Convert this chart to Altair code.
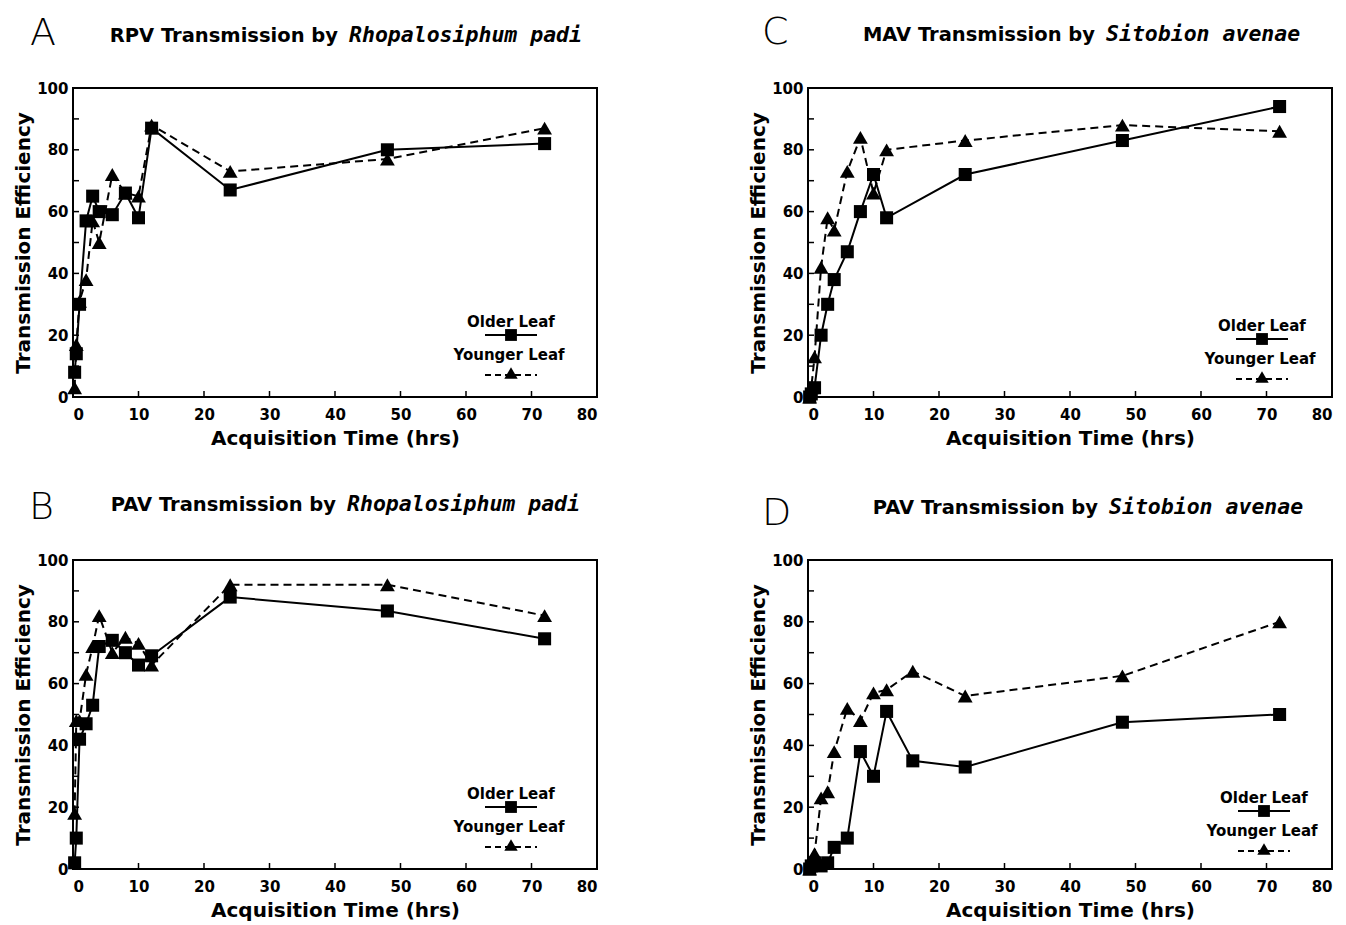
import altair as alt
import pandas as pd

# ---------------- data ----------------
TIMES = [0.25, 0.5, 1, 2, 3, 4, 6, 8, 10, 12, 24, 48, 72]
TIMES_D = [0.25, 0.5, 1, 2, 3, 4, 6, 8, 10, 12, 16, 24, 48, 72]

A_older = [8, 14, 30, 57, 65, 60, 59, 66, 58, 87, 67, 80, 82]
A_younger = [3, 17, 31, 38, 57, 50, 72, 66, 65, 88, 73, 77, 87]

C_older = [0, 1, 3, 20, 30, 38, 47, 60, 72, 58, 72, 83, 94]
C_younger = [0, 3, 13, 42, 58, 54, 73, 84, 66, 80, 83, 88, 86]

B_older = [2, 10, 42, 47, 53, 72, 74, 70, 66, 69, 88, 83.5, 74.5]
B_younger = [18, 48, 48, 63, 72, 82, 70, 75, 73, 66, 92, 92, 82]

D_older = [0, 1, 2, 1, 2, 7, 10, 38, 30, 51, 35, 33, 47.5, 50]
D_younger = [0, 2, 5, 23, 25, 38, 52, 48, 57, 58, 64, 56, 62.5, 80]

X_TICKS = list(range(0, 81, 10))
Y_TICKS = list(range(0, 101, 10))
Y_LABELS = list(range(0, 101, 20))

W, H = 524, 309
FONT = "DejaVu Sans"


def panel(letter, virus, aphid, t, older, younger, split, title_dy, letter_dx, letter_dy, leg_dx, leg_dy):
    df_o = pd.DataFrame({"t": t, "v": older})
    df_y = pd.DataFrame({"t": t, "v": younger})
    xs = alt.Scale(domain=[0, 80], nice=False, zero=False)
    ys = alt.Scale(domain=[0, 100], nice=False)
    xax = alt.Axis(values=X_TICKS, ticks=False, domain=False, grid=False,
                   labelFont=FONT, labelFontSize=15, labelFontWeight="bold",
                   labelColor="black", labelPadding=10,
                   title="Acquisition Time (hrs)", titleFont=FONT, titleFontSize=20,
                   titleFontWeight="bold", titleColor="black", titlePadding=6)
    yax = alt.Axis(values=Y_LABELS, ticks=False, domain=False, grid=False,
                   labelFont=FONT, labelFontSize=15, labelFontWeight="bold",
                   labelColor="black", labelPadding=5,
                   title="Transmission Efficiency", titleFont=FONT, titleFontSize=20,
                   titleFontWeight="bold", titleColor="black", titlePadding=3)
    X = alt.X("t:Q", scale=xs, axis=xax)
    Y = alt.Y("v:Q", scale=ys, axis=yax)

    line_o = alt.Chart(df_o).mark_line(color="black", strokeWidth=2).encode(x=X, y=Y)
    pts_o = alt.Chart(df_o).mark_point(shape="square", filled=True, size=170,
                                       color="black", opacity=1).encode(x=X, y=Y)
    line_y = alt.Chart(df_y).mark_line(color="black", strokeWidth=2,
                                       strokeDash=[8, 5]).encode(x=X, y=Y)
    pts_y = alt.Chart(df_y).mark_point(shape="triangle-up", filled=True, size=220,
                                       color="black", opacity=1).encode(x=X, y=Y)

    tick_y = alt.Chart(pd.DataFrame({"v": Y_TICKS})).mark_rule(
        color="black", strokeWidth=1.5).encode(
        y=alt.Y("v:Q", scale=ys, axis=yax), x=alt.value(0), x2=alt.value(6))
    tick_x = alt.Chart(pd.DataFrame({"t": X_TICKS})).mark_rule(
        color="black", strokeWidth=1.5).encode(
        x=alt.X("t:Q", scale=xs, axis=xax), y=alt.value(H), y2=alt.value(H - 6))

    one = pd.DataFrame({"a": [0]})
    lx = 438 + leg_dx
    ly = leg_dy
    leg_txt_o = alt.Chart(one).mark_text(text="Older Leaf", font=FONT, fontSize=15,
                                         fontWeight="bold", color="black",
                                         align="center", baseline="middle").encode(
        x=alt.value(lx), y=alt.value(234 + ly))
    leg_line_o = alt.Chart(one).mark_rule(color="black", strokeWidth=2).encode(
        x=alt.value(lx - 26), x2=alt.value(lx + 26), y=alt.value(247 + ly))
    leg_pt_o = alt.Chart(one).mark_point(shape="square", filled=True, size=140,
                                         color="black", opacity=1).encode(
        x=alt.value(lx), y=alt.value(247 + ly))
    leg_txt_y = alt.Chart(one).mark_text(text="Younger Leaf", font=FONT, fontSize=15,
                                         fontWeight="bold", color="black",
                                         align="center", baseline="middle").encode(
        x=alt.value(lx - 2), y=alt.value(267 + ly))
    leg_line_y = alt.Chart(one).mark_rule(color="black", strokeWidth=2,
                                          strokeDash=[6, 4]).encode(
        x=alt.value(lx - 26), x2=alt.value(lx + 26), y=alt.value(287 + ly))
    leg_pt_y = alt.Chart(one).mark_point(shape="triangle-up", filled=True, size=180,
                                         color="black", opacity=1).encode(
        x=alt.value(lx), y=alt.value(285 + ly))

    t_reg = alt.Chart(one).mark_text(text=f"{virus} Transmission by", font=FONT,
                                     fontSize=19.5, fontWeight="bold", color="black",
                                     align="right", baseline="alphabetic").encode(
        x=alt.value(split), y=alt.value(title_dy))
    t_ital = alt.Chart(one).mark_text(text=aphid, font="DejaVu Sans Mono", fontSize=21.5,
                                      fontWeight="bold", fontStyle="italic",
                                      color="black", align="left",
                                      baseline="alphabetic").encode(
        x=alt.value(split + 11), y=alt.value(title_dy))
    t_letter = alt.Chart(one).mark_text(text=letter, font=FONT, fontSize=38,
                                        fontWeight=200, color="black", align="left",
                                        baseline="alphabetic").encode(
        x=alt.value(letter_dx), y=alt.value(letter_dy))

    return alt.layer(tick_y, tick_x, line_o, line_y, pts_o, pts_y,
                     leg_txt_o, leg_line_o, leg_pt_o, leg_txt_y, leg_line_y, leg_pt_y,
                     t_reg, t_ital, t_letter).properties(width=W, height=H)


pA = panel("A", "RPV", "Rhopalosiphum padi", TIMES, A_older, A_younger,
           265, -46, -43, -43, 0, 0)
pC = panel("C", "MAV", "Sitobion avenae", TIMES, C_older, C_younger,
           287, -47, -46, -44, 16, 4)
pB = panel("B", "PAV", "Rhopalosiphum padi", TIMES, B_older, B_younger,
           263, -49, -44, -41, 0, 0)
pD = panel("D", "PAV", "Sitobion avenae", TIMES_D, D_older, D_younger,
           290, -46, -46, -35, 18, 4)

chart = alt.vconcat(
    alt.hconcat(pA, pC, spacing=148),
    alt.hconcat(pB, pD, spacing=148),
    spacing=39,
).properties(
    padding={"left": 4, "top": 5, "right": 0, "bottom": 0}
).configure(background="white").configure_view(stroke="black", strokeWidth=2)

chart.save("out.html", embed_options={"renderer": "svg", "actions": False})
